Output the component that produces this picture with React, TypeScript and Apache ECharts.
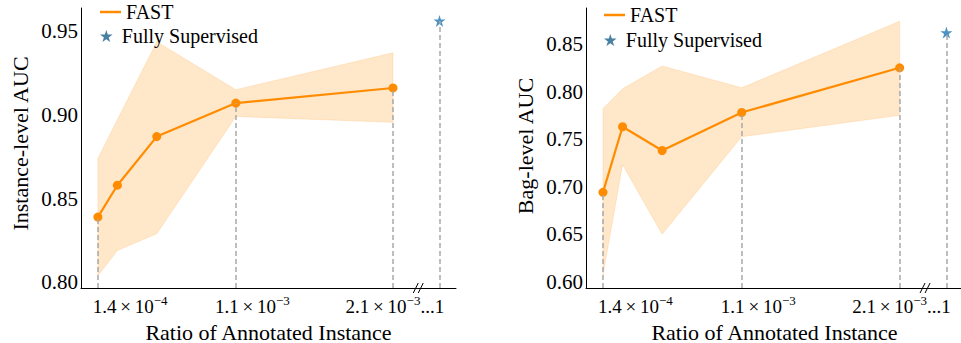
import React, { useEffect, useRef } from "react";
import * as echarts from "echarts";

// ---- data (x positions are in axis units of a 0..100 ordinal-like scale) ----
const xPositions = [4.5, 9.7, 20.2, 41.3, 83.2];
const starX = 95.6;
const breakX = 90.2;
const dashedIdx = [0, 3, 4];

const instMean = [0.839, 0.858, 0.887, 0.907, 0.916];
const instLower = [0.804, 0.819, 0.829, 0.899, 0.8955];
const instUpper = [0.874, 0.897, 0.9436, 0.915, 0.937];
const instFull = 0.956;
const instTicks = [0.8, 0.85, 0.9, 0.95];

const bagMean = [0.694, 0.763, 0.738, 0.778, 0.825];
const bagLower = [0.607, 0.723, 0.65, 0.7525, 0.775];
const bagUpper = [0.782, 0.803, 0.827, 0.804, 0.874];
const bagFull = 0.862;
const bagTicks = [0.6, 0.65, 0.7, 0.75, 0.8, 0.85];

const xTickPos = [13.1, 45.7, 83.7];
const xTickBase = ["1.4\u2009×\u200910", "1.1\u2009×\u200910", "2.1\u2009×\u200910"];
const xTickSup = ["−4", "−3", "−3"];
const xTickTail = ["", "", "...1"];

const FONT = "Liberation Serif, serif";
const ORANGE = "#ff8c00";
const STAR =
  "path://M50,0 L61.2,34.5 L97.6,34.5 L68.2,55.9 L79.4,90.5 L50,69.1 L20.6,90.5 L31.8,55.9 L2.4,34.5 L38.8,34.5 Z";

function buildPanel(
  gi: number,
  mean: number[],
  lower: number[],
  upper: number[],
  full: number,
  yMin: number
) {
  return [
    {
      type: "custom",
      name: "band" + gi,
      xAxisIndex: gi,
      yAxisIndex: gi,
      z: 1,
      silent: true,
      data: xPositions.map((x, i) => [x, lower[i], upper[i]]),
      renderItem: (params: any, api: any) => {
        if (params.dataIndex !== 0) return null;
        const top = xPositions.map((x, i) => api.coord([x, upper[i]]));
        const bot = xPositions.map((x, i) => api.coord([x, lower[i]])).reverse();
        return {
          type: "polygon",
          shape: { points: top.concat(bot) },
          style: { fill: "rgba(255,140,0,0.21)", stroke: "rgba(255,140,0,0.15)", lineWidth: 1 },
        };
      },
    },
    {
      type: "line",
      name: "guides" + gi,
      xAxisIndex: gi,
      yAxisIndex: gi,
      z: 2,
      data: [],
      markLine: {
        silent: true,
        symbol: ["none", "none"],
        label: { show: false },
        lineStyle: { color: "#a9a9a9", type: [5, 3], width: 1.5 },
        data: dashedIdx
          .map((i) => [
            { coord: [xPositions[i], yMin] },
            { coord: [xPositions[i], mean[i]] },
          ])
          .concat([[{ coord: [starX, yMin] }, { coord: [starX, full] }]]),
      },
    },
    {
      type: "line",
      name: "FAST",
      xAxisIndex: gi,
      yAxisIndex: gi,
      z: 3,
      data: xPositions.map((x, i) => [x, mean[i]]),
      symbol: "circle",
      symbolSize: 9,
      itemStyle: { color: ORANGE },
      lineStyle: { color: ORANGE, width: 2.2 },
    },
    {
      type: "scatter",
      name: "Fully Supervised",
      xAxisIndex: gi,
      yAxisIndex: gi,
      z: 3,
      data: [[starX, full]],
      symbol: STAR,
      symbolSize: 12,
      itemStyle: { color: "#1f77b4" },
    },
    {
      type: "custom",
      name: "break" + gi,
      xAxisIndex: gi,
      yAxisIndex: gi,
      z: 4,
      silent: true,
      data: [[breakX, yMin]],
      renderItem: (params: any, api: any) => {
        const p = api.coord([api.value(0), api.value(1)]);
        const st = { stroke: "#000", lineWidth: 1 };
        return {
          type: "group",
          children: [
            { type: "line", shape: { x1: p[0] - 6, y1: p[1] + 5, x2: p[0] - 1, y2: p[1] - 5 }, style: st },
            { type: "line", shape: { x1: p[0] - 1, y1: p[1] + 5, x2: p[0] + 4, y2: p[1] - 5 }, style: st },
          ],
        };
      },
    },
  ];
}

function xAxisCfg(gi: number) {
  return {
    type: "value",
    gridIndex: gi,
    min: 0,
    max: 100,
    name: "Ratio of Annotated Instance",
    nameLocation: "middle",
    nameGap: 33,
    nameTextStyle: { fontFamily: FONT, fontSize: 22, color: "#000" },
    axisLine: { show: true, lineStyle: { color: "#000", width: 1 } },
    axisTick: { show: false },
    splitLine: { show: false },
    axisLabel: {
      customValues: xTickPos,
      margin: 6,
      formatter: (v: number) => {
        let k = 0;
        xTickPos.forEach((p, i) => {
          if (Math.abs(p - v) < Math.abs(xTickPos[k] - v)) k = i;
        });
        return `{b|${xTickBase[k]}}{s|${xTickSup[k]}}` + (xTickTail[k] ? `{b|${xTickTail[k]}}` : "");
      },
      rich: {
        b: { fontFamily: FONT, fontSize: 19, color: "#000", lineHeight: 22, verticalAlign: "bottom" },
        s: { fontFamily: FONT, fontSize: 13, color: "#000", lineHeight: 13, verticalAlign: "top" },
      },
    },
  };
}

function yAxisCfg(gi: number, name: string, min: number, max: number, ticks: number[], shift: number) {
  return {
    type: "value",
    gridIndex: gi,
    min,
    max,
    name,
    nameLocation: "middle",
    nameGap: 50,
    nameTextStyle: { fontFamily: FONT, fontSize: 22, color: "#000", padding: [0, 0, 0, shift] },
    axisLine: { show: true, lineStyle: { color: "#000", width: 1 } },
    axisTick: { show: false },
    splitLine: { show: false },
    axisLabel: {
      customValues: ticks,
      margin: 3,
      fontFamily: FONT,
      fontSize: 21,
      color: "#000",
      formatter: (v: number) => v.toFixed(2),
    },
  };
}

function legendCfg(left: number, top: number, name: string, isStar: boolean) {
  return {
    data: [
      isStar
        ? { name, icon: STAR, itemStyle: { color: "#1b5f8a" } }
        : { name, icon: "rect" },
    ],
    left,
    top,
    padding: 0,
    itemWidth: 21,
    itemHeight: isStar ? 12 : 2.5,
    lineStyle: { width: 3 },
    selectedMode: false,
    textStyle: { fontFamily: FONT, fontSize: 20, color: "#000" },
  };
}

export default function App() {
  const ref = useRef<HTMLDivElement>(null);
  useEffect(() => {
    if (!ref.current) return;
    const chart = echarts.init(ref.current, undefined, { renderer: "svg" });
    const instMin = 0.7967, instMax = 0.9637;
    const bagMin = 0.5934, bagMax = 0.8879;
    chart.setOption({
      animation: false,
      backgroundColor: "#fff",
      grid: [
        { left: 81, top: 8, width: 375, height: 280, outerBoundsMode: "none", containLabel: false },
        { left: 586, top: 8, width: 377, height: 280, outerBoundsMode: "none", containLabel: false },
      ],
      legend: [
        legendCfg(100, 2, "FAST", false),
        legendCfg(100, 26, "Fully Supervised", true),
        legendCfg(604, 5, "FAST", false),
        legendCfg(604, 30, "Fully Supervised", true),
      ],
      xAxis: [xAxisCfg(0), xAxisCfg(1)],
      yAxis: [
        yAxisCfg(0, "Instance-level AUC", instMin, instMax, instTicks, 9),
        yAxisCfg(1, "Bag-level AUC", bagMin, bagMax, bagTicks, 4),
      ],
      series: [
        ...buildPanel(0, instMean, instLower, instUpper, instFull, instMin),
        ...buildPanel(1, bagMean, bagLower, bagUpper, bagFull, bagMin),
      ],
    });
    return () => chart.dispose();
  }, []);
  return (
    <div
      ref={ref}
      style={{ position: "fixed", left: 0, top: 0, width: 961, height: 343, background: "#fff" }}
    />
  );
}
